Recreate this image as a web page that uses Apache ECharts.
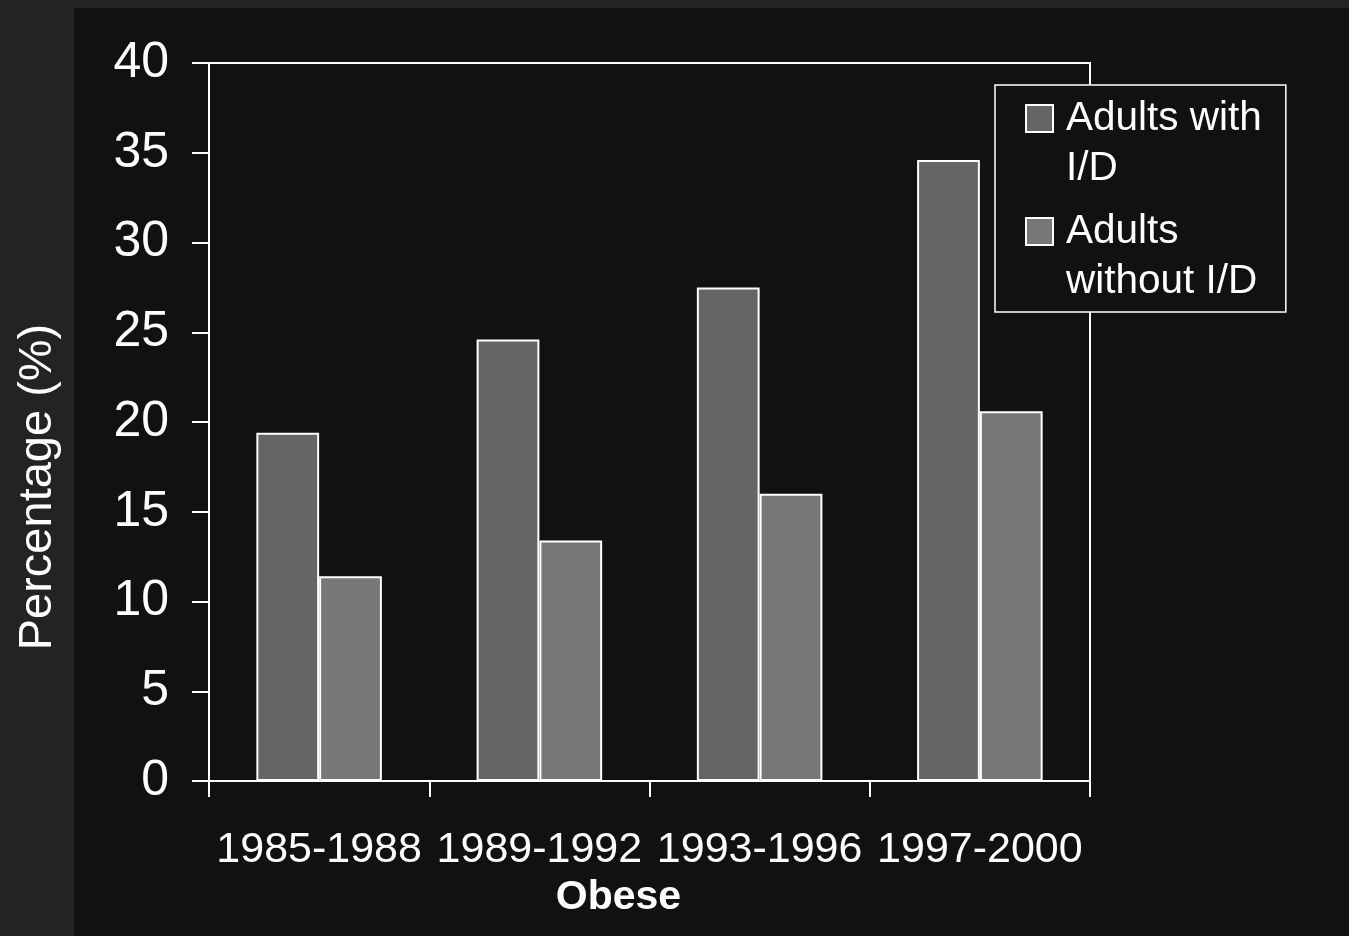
<!DOCTYPE html>
<html>
<head>
<meta charset="utf-8">
<title>Obese adults, 1985-2000</title>
<script src="https://cdn.jsdelivr.net/npm/echarts@6/dist/echarts.min.js"></script>
<style>
  html, body { margin: 0; padding: 0; background: #232323; }
  #chart { width: 1349px; height: 936px; }
</style>
</head>
<body>
<div id="chart"></div>
<script>
// Survey periods on the x axis
const periods = ['1985-1988', '1989-1992', '1993-1996', '1997-2000'];
// Share of obese adults (%) per period
const withID = [19.4, 24.6, 27.5, 34.6];
const withoutID = [11.4, 13.4, 16.0, 20.6];
// Series names as shown in the legend
const seriesNames = ['Adults with\nI/D', 'Adults\nwithout I/D'];
// Value axis range and step
const yMin = 0, yMax = 40, yStep = 5;

const FONT = '"Liberation Sans", Arial, sans-serif';
const chart = echarts.init(document.getElementById('chart'), null, { renderer: 'canvas' });

const barStyle = (color) => ({ color: color, borderColor: '#ffffff', borderWidth: 2 });

chart.setOption({
  backgroundColor: '#232323',
  animation: false,
  graphic: [{
    type: 'rect',
    z: -100,
    silent: true,
    shape: { x: 74, y: 8, width: 1349 - 74, height: 936 - 8 },
    style: { fill: '#111111' }
  }],
  grid: {
    left: 209, top: 63, right: 259, bottom: 155,
    show: true, borderColor: '#ffffff', borderWidth: 2,
    backgroundColor: 'transparent'
  },
  legend: {
    orient: 'vertical',
    left: 995, top: 85,
    data: seriesNames,
    icon: 'path://M0,0H27V27H0Z M0,77L0,77',
    itemWidth: 27, itemHeight: 77,
    itemGap: 13,
    padding: [8.5, 24, 5.5, 30],
    borderColor: '#ffffff', borderWidth: 1.5,
    backgroundColor: '#111111',
    itemStyle: { borderColor: '#ffffff', borderWidth: 2 },
    textStyle: {
      color: '#ffffff', fontFamily: FONT, fontSize: 40.5,
      lineHeight: 50, padding: [0, 0, 0, 8]
    },
    selectedMode: false
  },
  xAxis: {
    type: 'category',
    data: periods,
    boundaryGap: true,
    name: 'Obese',
    nameLocation: 'middle',
    nameGap: 96,
    nameMoveOverlap: false,
    nameTextStyle: {
      color: '#ffffff', fontFamily: FONT, fontSize: 41, fontWeight: 'bold',
      padding: [0, 62, 0, 0]
    },
    axisLine: { show: true, lineStyle: { color: '#ffffff', width: 2 } },
    axisTick: { show: true, inside: false, length: 16, alignWithLabel: false,
                lineStyle: { color: '#ffffff', width: 2 } },
    axisLabel: { color: '#ffffff', fontFamily: FONT, fontSize: 43, margin: 48, interval: 0 },
    splitLine: { show: false }
  },
  yAxis: {
    type: 'value',
    min: yMin, max: yMax, interval: yStep,
    name: 'Percentage (%)',
    nameLocation: 'middle',
    nameGap: 147,
    nameMoveOverlap: false,
    nameTextStyle: {
      color: '#ffffff', fontFamily: FONT, fontSize: 47,
      padding: [0, 130, 0, 0]
    },
    axisLine: { show: true, lineStyle: { color: '#ffffff', width: 2 } },
    axisTick: { show: true, inside: false, length: 17, lineStyle: { color: '#ffffff', width: 2 } },
    axisLabel: { color: '#ffffff', fontFamily: FONT, fontSize: 50, margin: 40, padding: [4, 0, 0, 0] },
    splitLine: { show: false }
  },
  series: [
    {
      name: seriesNames[0], type: 'bar', data: withID,
      barGap: '0%', barCategoryGap: '43%',
      itemStyle: barStyle('#656565')
    },
    {
      name: seriesNames[1], type: 'bar', data: withoutID,
      barGap: '0%', barCategoryGap: '43%',
      itemStyle: barStyle('#777777')
    }
  ]
});
</script>
</body>
</html>
